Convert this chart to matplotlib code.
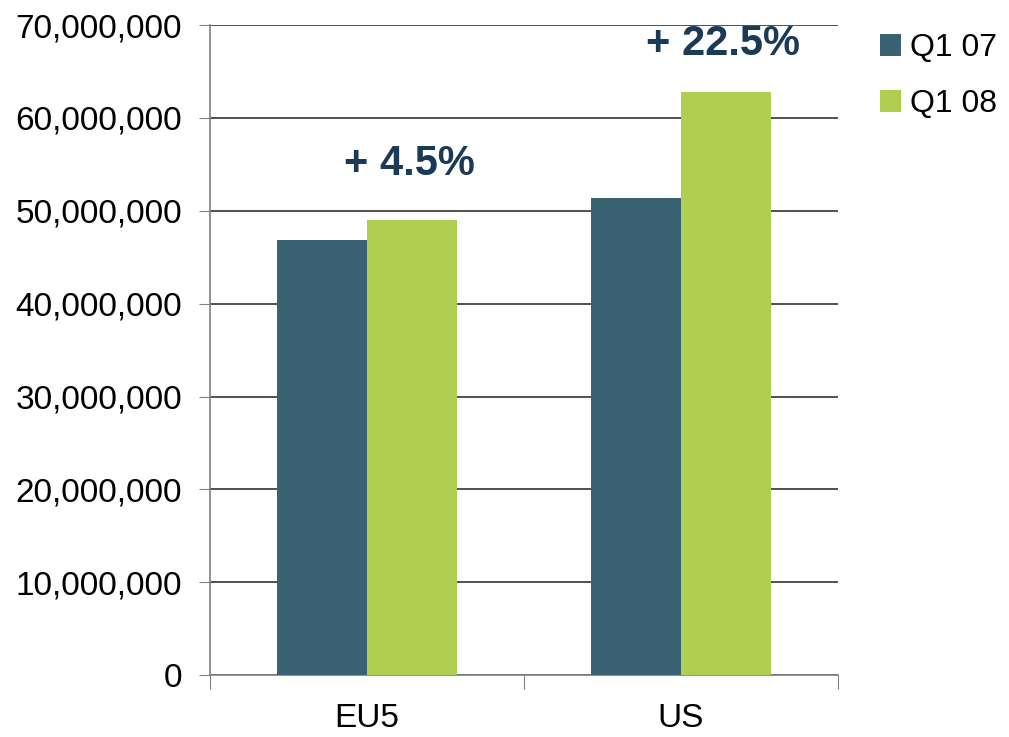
import matplotlib
matplotlib.use("Agg")
import matplotlib.pyplot as plt
from matplotlib.ticker import FuncFormatter, FixedLocator
import numpy as np

categories = ["EU5", "US"]
series_names = ["Q1 07", "Q1 08"]
q1_07 = [46.8e6, 51.4e6]
q1_08 = [49.0e6, 62.8e6]
growth_labels = ["+ 4.5%", "+ 22.5%"]
growth_y = [55.0e6, 68.0e6]

c07 = "#3B6273"
c08 = "#AFCF53"
txt_col = "#1B3A55"

plt.rcParams['font.family'] = ['Liberation Sans', 'DejaVu Sans']

fig = plt.figure(figsize=(10.09, 7.37), dpi=100)
ax = fig.add_axes([0.208, 0.084, 0.6225, 0.882])

x = np.arange(len(categories))
w = 0.287
ax.bar(x - w / 2, q1_07, width=w, color=c07, label=series_names[0], zorder=3)
ax.bar(x + w / 2, q1_08, width=w, color=c08, label=series_names[1], zorder=3)

for xi, lab, gy in zip(x, growth_labels, growth_y):
    ax.text(xi + 0.135, gy, lab, ha="center", va="center", fontsize=30,
            fontweight="bold", color=txt_col)

ax.set_xlim(-0.5, 1.5)
ax.set_ylim(0, 70e6)
ax.yaxis.set_major_locator(FixedLocator(np.arange(0, 70e6 + 1, 10e6)))
ax.yaxis.set_major_formatter(FuncFormatter(lambda v, p: f"{int(v):,}"))
ax.yaxis.grid(True, color="#333333", linewidth=1.2, zorder=0)
ax.set_axisbelow(True)

ax.set_xticks([-0.5, 0.5, 1.5])
ax.set_xticklabels([])
ax.set_xticks(x, minor=True)
ax.set_xticklabels(categories, minor=True)
ax.tick_params(axis="x", which="major", length=10, color="#808080", direction="out")
ax.tick_params(axis="x", which="minor", length=0, pad=20, labelsize=24)
ax.tick_params(axis="y", length=8, color="#808080", labelsize=24, pad=12)

for s in ["top", "right"]:
    ax.spines[s].set_visible(False)
for s in ["left", "bottom"]:
    ax.spines[s].set_color("#808080")
    ax.spines[s].set_linewidth(1.2)

leg = fig.legend(loc="upper left", bbox_to_anchor=(0.872, 0.955), frameon=False,
                 fontsize=23, handlelength=0.65, handleheight=0.65,
                 handletextpad=0.3, labelspacing=0.82,
                 borderpad=0, borderaxespad=0)

fig.savefig("out.png", dpi=100)
